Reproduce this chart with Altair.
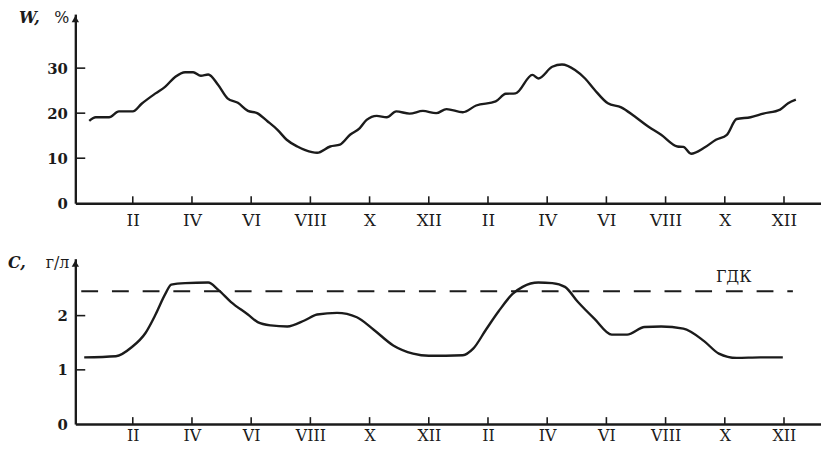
import altair as alt
import pandas as pd

# ---------------- data ----------------
w_month = [0.53, 0.75, 1.2, 1.53, 2.0, 2.3, 2.77, 3.1, 3.44, 3.77, 4.04, 4.3, 4.55, 4.88,
           5.2, 5.55, 5.89, 6.2, 6.55, 6.89, 7.2, 7.56, 7.83, 8.23, 8.67, 9.0, 9.34, 9.67,
           9.9, 10.24, 10.58, 10.9, 11.35, 11.8, 12.25, 12.6, 13.15, 13.6, 14.26, 14.6,
           14.93, 15.5, 15.7, 16.17, 16.5, 16.94, 17.28, 17.6, 18.05, 18.5, 18.95, 19.4,
           19.85, 20.4, 20.6, 20.86, 21.3, 21.7, 22.07, 22.4, 22.87, 23.3, 23.87, 24.14, 24.4]
w_value = [18.3, 19.1, 19.1, 20.4, 20.4, 22.1, 24.4, 25.9, 28.1, 29.1, 29.1, 28.3, 28.6, 26.3,
           23.3, 22.3, 20.5, 20.0, 18.2, 16.3, 14.1, 12.6, 11.8, 11.2, 12.6, 13.0, 15.2, 16.7,
           18.5, 19.4, 19.1, 20.4, 19.9, 20.5, 20.0, 20.9, 20.2, 21.7, 22.6, 24.3,
           24.4, 28.5, 27.7, 30.3, 30.8, 29.6, 27.7, 25.2, 22.2, 21.3, 19.3, 17.1,
           15.2, 12.6, 12.5, 11.0, 12.3, 14.1, 15.2, 18.7, 19.1, 19.9, 20.8, 22.2, 23.0]

c_month = [0.36, 1.43, 1.97, 2.43, 2.77, 3.1, 3.3, 3.77, 4.55, 4.88, 5.32, 5.89, 6.22, 6.66,
           7.22, 7.8, 8.23, 8.9, 9.57, 10.14, 10.8, 11.47, 12.0, 13.15, 13.5, 13.93, 14.36,
           14.83, 15.17, 15.7, 16.17, 16.6, 17.04, 17.6, 18.18, 18.7, 19.29, 19.85, 20.6,
           21.3, 21.8, 22.4, 23.2, 23.96]
c_value = [1.23, 1.25, 1.42, 1.68, 2.02, 2.40, 2.57, 2.60, 2.61, 2.48, 2.25, 2.02, 1.88, 1.82,
           1.80, 1.91, 2.02, 2.05, 1.97, 1.74, 1.45, 1.30, 1.26, 1.27, 1.39, 1.74, 2.08,
           2.40, 2.53, 2.61, 2.60, 2.53, 2.25, 1.94, 1.65, 1.65, 1.79, 1.80, 1.76,
           1.53, 1.30, 1.22, 1.23, 1.23]

tick_months = [2, 4, 6, 8, 10, 12, 14, 16, 18, 20, 22, 24]
tick_names = ["II", "IV", "VI", "VIII", "X", "XII", "II", "IV", "VI", "VIII", "X", "XII"]
w_axis_values = [0, 10, 20, 30]
w_tick_values = [10, 20, 30]
c_axis_values = [0, 1, 2]
c_tick_values = [1, 2]

gdk_level = [2.45]
gdk_start = [0.26]
gdk_end = [24.3]
gdk_label = ["ГДК"]
gdk_label_month = [22.3]
gdk_label_c = [2.72]

w_symbol, w_unit = "W,", "%"
c_symbol, c_unit = "C,", "г/л"

# ---------------- styling ----------------
INK = "#1b1b1b"
SERIF = "DejaVu Serif"
WIDTH = 753
H_TOP = 191
H_BOT = 167
XDOM = [0.06, 25.25]

label_expr = "[" + ",".join("'%s'" % n for n in tick_names) + "][round(datum.value/2)-1]"
x_scale = alt.Scale(domain=XDOM, nice=False, zero=False)


def x_axis(font_size, pad):
    return alt.Axis(values=tick_months, labelExpr=label_expr, tickSize=0, grid=False,
                    domainColor=INK, domainWidth=2.4, labelFont=SERIF, labelFontSize=font_size,
                    labelColor=INK, labelPadding=pad, title=None, labelFlush=False)


def y_axis(vals):
    return alt.Axis(values=vals, format="d", tickSize=0, grid=False, domainColor=INK,
                    domainWidth=2.4, labelFont=SERIF, labelFontSize=15, labelFontWeight="bold",
                    labelColor=INK, labelPadding=8, title=None)


def panel(df_line, ycol, ydom, yvals, ytick_vals, height, sym, unit, sym_x, xax, extra=None):
    ys = alt.Scale(domain=ydom, nice=False, zero=True)
    X = alt.X("m:Q", scale=x_scale, axis=xax)
    Y = alt.Y(ycol + ":Q", scale=ys, axis=y_axis(yvals))

    line = alt.Chart(df_line).mark_line(color=INK, strokeWidth=2.4, interpolate="monotone").encode(
        x=X, y=Y)

    xt = alt.Chart(pd.DataFrame({"m": tick_months})).mark_rule(color=INK, strokeWidth=1.6).encode(
        x=X, y=alt.value(height), y2=alt.value(height - 7))

    yt = alt.Chart(pd.DataFrame({ycol: ytick_vals})).mark_rule(color=INK, strokeWidth=1.6).encode(
        y=Y, x=alt.value(0), x2=alt.value(10))

    one = pd.DataFrame({"k": [0]})
    arrow = alt.Chart(one).mark_point(shape="triangle-up", filled=True, size=55, color=INK,
                                      opacity=1).encode(x=alt.value(0), y=alt.value(5))
    t_sym = alt.Chart(one).mark_text(text=sym, font=SERIF, fontSize=16, fontStyle="italic",
                                     fontWeight="bold", color=INK, align="left",
                                     baseline="middle").encode(x=alt.value(sym_x), y=alt.value(4))
    t_unit = alt.Chart(one).mark_text(text=unit, font=SERIF, fontSize=16, fontWeight="normal",
                                      color=INK, align="right", baseline="middle").encode(
        x=alt.value(-6), y=alt.value(4))

    layers = [line, xt, yt, arrow, t_sym, t_unit]
    if extra is not None:
        layers += extra(X, Y)
    return alt.layer(*layers).properties(width=WIDTH, height=height)


df_w = pd.DataFrame({"m": w_month, "w": w_value})
df_c = pd.DataFrame({"m": c_month, "c": c_value})


def gdk_layers(X, Y):
    d = pd.DataFrame({"m": gdk_start, "m2": gdk_end, "c": gdk_level})
    rule = alt.Chart(d).mark_rule(color=INK, strokeWidth=2, strokeDash=[17, 14]).encode(
        x=X, x2="m2:Q", y=Y)
    lab = pd.DataFrame({"m": gdk_label_month, "c": gdk_label_c, "t": gdk_label})
    txt = alt.Chart(lab).mark_text(font=SERIF, fontSize=16, color=INK, baseline="middle",
                                   align="center").encode(x=X, y=Y, text="t:N")
    return [rule, txt]


top = panel(df_w, "w", [0, 42], w_axis_values, w_tick_values, H_TOP, w_symbol, w_unit, -57,
            x_axis(17, 9))
bottom = panel(df_c, "c", [0, 3.05], c_axis_values, c_tick_values, H_BOT, c_symbol, c_unit, -68,
               x_axis(16, 4), extra=gdk_layers)

chart = alt.vconcat(top, bottom, spacing=27).properties(
    padding={"left": 0, "top": 0, "right": 0, "bottom": 0},
    background="white",
).configure_view(stroke=None)

chart.save("out.html", embed_options={"renderer": "svg", "actions": False})
